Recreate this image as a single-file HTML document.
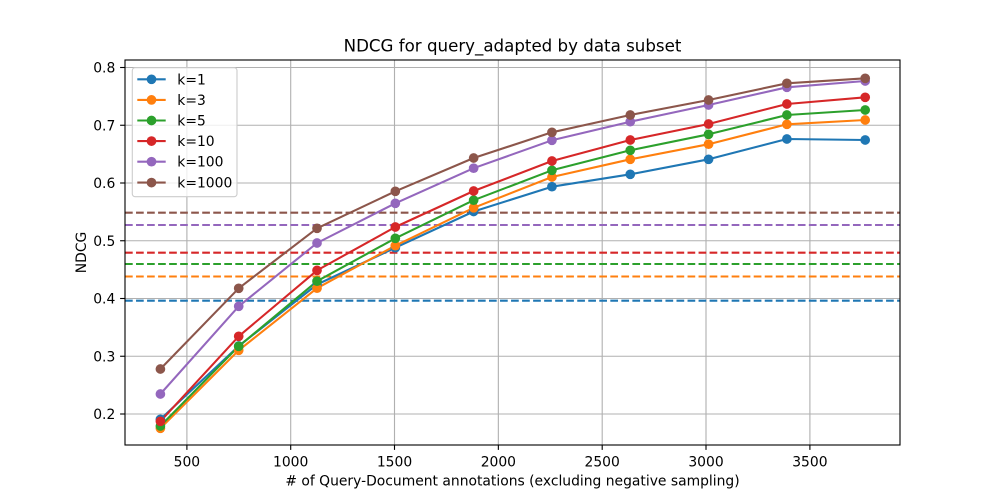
<!DOCTYPE html>
<html>
<head>
<meta charset="utf-8">
<style>
html,body{margin:0;padding:0;background:#fff;}
svg{display:block;}
text{font-family:"DejaVu Sans","Liberation Sans",sans-serif;fill:#000;}
</style>
</head>
<body>
<svg width="1000" height="500" viewBox="0 0 1000 500" xmlns="http://www.w3.org/2000/svg">
<rect x="0" y="0" width="1000" height="500" fill="#fff"/>
<!-- grid -->
<g stroke="#b0b0b0" stroke-width="1.11" fill="none">
<line x1="186.9" y1="60" x2="186.9" y2="445"/>
<line x1="290.7" y1="60" x2="290.7" y2="445"/>
<line x1="394.5" y1="60" x2="394.5" y2="445"/>
<line x1="498.35" y1="60" x2="498.35" y2="445"/>
<line x1="602.2" y1="60" x2="602.2" y2="445"/>
<line x1="706" y1="60" x2="706" y2="445"/>
<line x1="809.9" y1="60" x2="809.9" y2="445"/>
<line x1="125" y1="414" x2="900" y2="414"/>
<line x1="125" y1="356.25" x2="900" y2="356.25"/>
<line x1="125" y1="298.5" x2="900" y2="298.5"/>
<line x1="125" y1="240.75" x2="900" y2="240.75"/>
<line x1="125" y1="183" x2="900" y2="183"/>
<line x1="125" y1="125.25" x2="900" y2="125.25"/>
<line x1="125" y1="67.5" x2="900" y2="67.5"/>
</g>
<!-- dashed reference lines -->
<g stroke-width="2.08" stroke-dasharray="7.7,3.33" fill="none">
<line x1="125" y1="300.7" x2="900" y2="300.7" stroke="#1f77b4"/>
<line x1="125" y1="276.5" x2="900" y2="276.5" stroke="#ff7f0e"/>
<line x1="125" y1="264" x2="900" y2="264" stroke="#2ca02c"/>
<line x1="125" y1="252.7" x2="900" y2="252.7" stroke="#d62728"/>
<line x1="125" y1="225" x2="900" y2="225" stroke="#9467bd"/>
<line x1="125" y1="212.7" x2="900" y2="212.7" stroke="#8c564b"/>
</g>
<!-- series -->
<g stroke-width="2.08" fill="none" stroke-linejoin="round">
<polyline stroke="#1f77b4" points="160.4,419.3 238.71,346 317.02,284.5 395.33,247.7 473.64,211.5 551.95,186.7 630.26,174.3 708.57,159.3 786.88,139 865.19,140"/>
<polyline stroke="#ff7f0e" points="160.4,428.3 238.71,350.3 317.02,288.2 395.33,245.7 473.64,207.8 551.95,177 630.26,159.3 708.57,144.2 786.88,124.3 865.19,120"/>
<polyline stroke="#2ca02c" points="160.4,426 238.71,346.3 317.02,281.2 395.33,238.3 473.64,200.2 551.95,170.3 630.26,150.3 708.57,134.3 786.88,115 865.19,110"/>
<polyline stroke="#d62728" points="160.4,421.3 238.71,336.3 317.02,270.4 395.33,227 473.64,191 551.95,161 630.26,140 708.57,124 786.88,104 865.19,97.3"/>
<polyline stroke="#9467bd" points="160.4,394 238.71,306.3 317.02,243 395.33,203.3 473.64,168.2 551.95,140.3 630.26,121.7 708.57,105 786.88,87.3 865.19,81"/>
<polyline stroke="#8c564b" points="160.4,369 238.71,288.3 317.02,228.3 395.33,191.3 473.64,158 551.95,132.3 630.26,115 708.57,100 786.88,83.3 865.19,78.3"/>
</g>
<g fill="#1f77b4">
<circle cx="160.4" cy="419.3" r="4.85"/><circle cx="238.71" cy="346" r="4.85"/><circle cx="317.02" cy="284.5" r="4.85"/><circle cx="395.33" cy="247.7" r="4.85"/><circle cx="473.64" cy="211.5" r="4.85"/><circle cx="551.95" cy="186.7" r="4.85"/><circle cx="630.26" cy="174.3" r="4.85"/><circle cx="708.57" cy="159.3" r="4.85"/><circle cx="786.88" cy="139" r="4.85"/><circle cx="865.19" cy="140" r="4.85"/>
</g>
<g fill="#ff7f0e">
<circle cx="160.4" cy="428.3" r="4.85"/><circle cx="238.71" cy="350.3" r="4.85"/><circle cx="317.02" cy="288.2" r="4.85"/><circle cx="395.33" cy="245.7" r="4.85"/><circle cx="473.64" cy="207.8" r="4.85"/><circle cx="551.95" cy="177" r="4.85"/><circle cx="630.26" cy="159.3" r="4.85"/><circle cx="708.57" cy="144.2" r="4.85"/><circle cx="786.88" cy="124.3" r="4.85"/><circle cx="865.19" cy="120" r="4.85"/>
</g>
<g fill="#2ca02c">
<circle cx="160.4" cy="426" r="4.85"/><circle cx="238.71" cy="346.3" r="4.85"/><circle cx="317.02" cy="281.2" r="4.85"/><circle cx="395.33" cy="238.3" r="4.85"/><circle cx="473.64" cy="200.2" r="4.85"/><circle cx="551.95" cy="170.3" r="4.85"/><circle cx="630.26" cy="150.3" r="4.85"/><circle cx="708.57" cy="134.3" r="4.85"/><circle cx="786.88" cy="115" r="4.85"/><circle cx="865.19" cy="110" r="4.85"/>
</g>
<g fill="#d62728">
<circle cx="160.4" cy="421.3" r="4.85"/><circle cx="238.71" cy="336.3" r="4.85"/><circle cx="317.02" cy="270.4" r="4.85"/><circle cx="395.33" cy="227" r="4.85"/><circle cx="473.64" cy="191" r="4.85"/><circle cx="551.95" cy="161" r="4.85"/><circle cx="630.26" cy="140" r="4.85"/><circle cx="708.57" cy="124" r="4.85"/><circle cx="786.88" cy="104" r="4.85"/><circle cx="865.19" cy="97.3" r="4.85"/>
</g>
<g fill="#9467bd">
<circle cx="160.4" cy="394" r="4.85"/><circle cx="238.71" cy="306.3" r="4.85"/><circle cx="317.02" cy="243" r="4.85"/><circle cx="395.33" cy="203.3" r="4.85"/><circle cx="473.64" cy="168.2" r="4.85"/><circle cx="551.95" cy="140.3" r="4.85"/><circle cx="630.26" cy="121.7" r="4.85"/><circle cx="708.57" cy="105" r="4.85"/><circle cx="786.88" cy="87.3" r="4.85"/><circle cx="865.19" cy="81" r="4.85"/>
</g>
<g fill="#8c564b">
<circle cx="160.4" cy="369" r="4.85"/><circle cx="238.71" cy="288.3" r="4.85"/><circle cx="317.02" cy="228.3" r="4.85"/><circle cx="395.33" cy="191.3" r="4.85"/><circle cx="473.64" cy="158" r="4.85"/><circle cx="551.95" cy="132.3" r="4.85"/><circle cx="630.26" cy="115" r="4.85"/><circle cx="708.57" cy="100" r="4.85"/><circle cx="786.88" cy="83.3" r="4.85"/><circle cx="865.19" cy="78.3" r="4.85"/>
</g>
<!-- spines -->
<rect x="125" y="60" width="775" height="385" fill="none" stroke="#000" stroke-width="1.11"/>
<!-- ticks -->
<g stroke="#000" stroke-width="1.11">
<line x1="186.9" y1="445" x2="186.9" y2="449.9"/>
<line x1="290.7" y1="445" x2="290.7" y2="449.9"/>
<line x1="394.5" y1="445" x2="394.5" y2="449.9"/>
<line x1="498.35" y1="445" x2="498.35" y2="449.9"/>
<line x1="602.2" y1="445" x2="602.2" y2="449.9"/>
<line x1="706" y1="445" x2="706" y2="449.9"/>
<line x1="809.9" y1="445" x2="809.9" y2="449.9"/>
<line x1="120.1" y1="414" x2="125" y2="414"/>
<line x1="120.1" y1="356.25" x2="125" y2="356.25"/>
<line x1="120.1" y1="298.5" x2="125" y2="298.5"/>
<line x1="120.1" y1="240.75" x2="125" y2="240.75"/>
<line x1="120.1" y1="183" x2="125" y2="183"/>
<line x1="120.1" y1="125.25" x2="125" y2="125.25"/>
<line x1="120.1" y1="67.5" x2="125" y2="67.5"/>
</g>
<g font-size="13.89px" text-anchor="middle">
<text x="186.9" y="466.3">500</text>
<text x="290.7" y="466.3">1000</text>
<text x="394.5" y="466.3">1500</text>
<text x="498.35" y="466.3">2000</text>
<text x="602.2" y="466.3">2500</text>
<text x="706" y="466.3">3000</text>
<text x="809.9" y="466.3">3500</text>
</g>
<g font-size="13.89px" text-anchor="end">
<text x="115.3" y="419.1">0.2</text>
<text x="115.3" y="361.3">0.3</text>
<text x="115.3" y="303.6">0.4</text>
<text x="115.3" y="245.8">0.5</text>
<text x="115.3" y="188.1">0.6</text>
<text x="115.3" y="130.3">0.7</text>
<text x="115.3" y="72.6">0.8</text>
</g>
<text x="512.5" y="485.3" font-size="13.89px" text-anchor="middle"># of Query-Document annotations (excluding negative sampling)</text>
<text transform="translate(86,252.5) rotate(-90)" x="0" y="0" font-size="13.89px" text-anchor="middle">NDCG</text>
<text x="512.5" y="51.7" font-size="16.67px" text-anchor="middle">NDCG for query_adapted by data subset</text>
<!-- legend -->
<rect x="132.3" y="67.7" width="104.7" height="129" rx="2.8" ry="2.8" fill="#fff" fill-opacity="0.8" stroke="#cccccc" stroke-width="1.11"/>
<g stroke-width="2.08">
<line x1="137.3" y1="79.3" x2="165.7" y2="79.3" stroke="#1f77b4"/>
<line x1="137.3" y1="99.9" x2="165.7" y2="99.9" stroke="#ff7f0e"/>
<line x1="137.3" y1="120.5" x2="165.7" y2="120.5" stroke="#2ca02c"/>
<line x1="137.3" y1="141.1" x2="165.7" y2="141.1" stroke="#d62728"/>
<line x1="137.3" y1="161.7" x2="165.7" y2="161.7" stroke="#9467bd"/>
<line x1="137.3" y1="182.6" x2="165.7" y2="182.6" stroke="#8c564b"/>
</g>
<circle cx="151.5" cy="79.3" r="4.85" fill="#1f77b4"/>
<circle cx="151.5" cy="99.9" r="4.85" fill="#ff7f0e"/>
<circle cx="151.5" cy="120.5" r="4.85" fill="#2ca02c"/>
<circle cx="151.5" cy="141.1" r="4.85" fill="#d62728"/>
<circle cx="151.5" cy="161.7" r="4.85" fill="#9467bd"/>
<circle cx="151.5" cy="182.6" r="4.85" fill="#8c564b"/>
<g font-size="13.89px">
<text x="177.3" y="84.3">k=1</text>
<text x="177.3" y="104.9">k=3</text>
<text x="177.3" y="125.5">k=5</text>
<text x="177.3" y="146.1">k=10</text>
<text x="177.3" y="166.7">k=100</text>
<text x="177.3" y="187.6">k=1000</text>
</g>
</svg>
</body>
</html>
